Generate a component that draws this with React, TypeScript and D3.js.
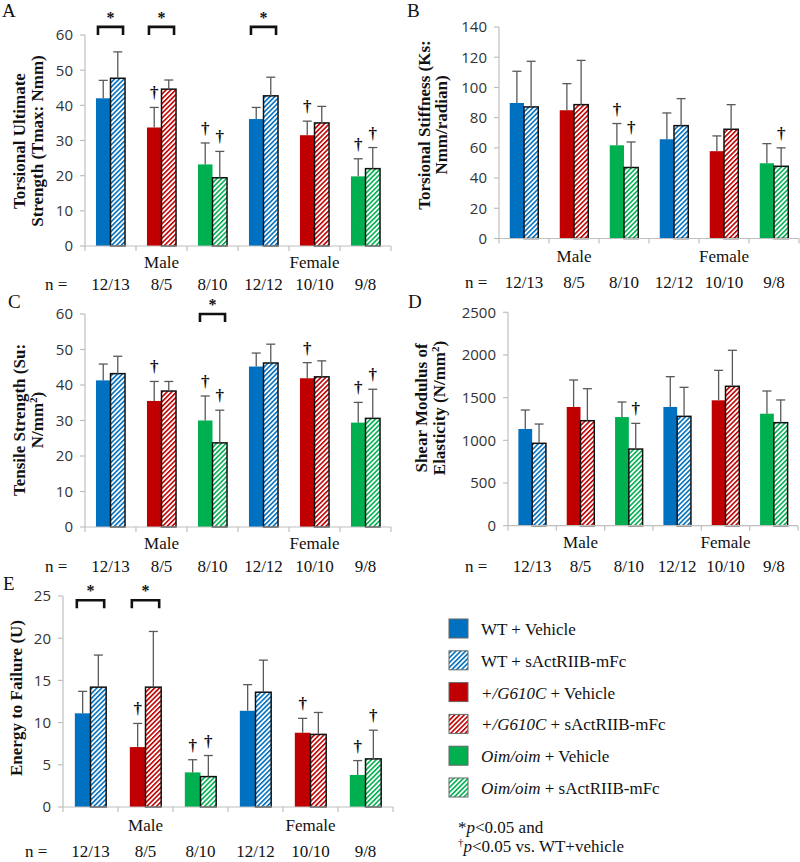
import React from 'react';
import * as d3 from 'd3';

const W = 800;
const H = 862;

// ---------- shared categories ----------
const categories = ['M-WT', 'M-G610C', 'M-oim', 'F-WT', 'F-G610C', 'F-oim'];
const genotypeOfCategory = [0, 1, 2, 0, 1, 2];
const treatments = ['Vehicle', 'sActRIIB-mFc'];
const sexLabels = ['Male', 'Female'];
const nLabels = ['12/13', '8/5', '8/10', '12/12', '10/10', '9/8'];
const genotypeColors = ['#0070C0', '#C00000', '#00B050'];

// ---------- Panel A: Torsional ultimate strength ----------
const aVehicle = [42.0, 33.7, 23.2, 36.1, 31.5, 19.8];
const aVehicleSD = [5.1, 5.7, 6.1, 3.3, 4.0, 5.0];
const aTreated = [47.7, 44.6, 19.4, 42.7, 35.0, 22.0];
const aTreatedSD = [7.5, 2.6, 7.5, 5.3, 4.7, 6.0];
const aDaggerVehicle = [1, 2, 4, 5];
const aDaggerTreated = [2, 5];
const aStars = [0, 1, 3];

// ---------- Panel B: Torsional stiffness ----------
const bVehicle = [89.7, 84.9, 61.7, 65.7, 57.8, 49.8];
const bVehicleSD = [21.0, 17.6, 14.4, 17.4, 10.1, 13.0];
const bTreated = [87.1, 88.6, 47.0, 74.7, 72.3, 47.8];
const bTreatedSD = [30.2, 29.3, 16.9, 17.9, 16.3, 12.2];
const bDaggerVehicle = [2];
const bDaggerTreated = [2, 5];
const bStars: number[] = [];

// ---------- Panel C: Tensile strength ----------
const cVehicle = [41.3, 35.5, 30.0, 45.2, 41.9, 29.4];
const cVehicleSD = [4.6, 5.5, 6.9, 3.8, 4.4, 5.7];
const cTreated = [43.2, 38.3, 23.7, 46.2, 42.3, 30.6];
const cTreatedSD = [4.9, 2.7, 9.2, 5.3, 4.5, 8.2];
const cDaggerVehicle = [1, 2, 4, 5];
const cDaggerTreated = [2, 5];
const cStars = [2];

// ---------- Panel D: Shear modulus ----------
const dVehicle = [1133, 1391, 1273, 1391, 1469, 1312];
const dVehicleSD = [222, 316, 176, 355, 351, 266];
const dTreated = [965, 1230, 898, 1281, 1633, 1207];
const dTreatedSD = [226, 375, 301, 340, 422, 266];
const dDaggerVehicle: number[] = [];
const dDaggerTreated = [2];
const dStars: number[] = [];

// ---------- Panel E: Energy to failure ----------
const eVehicle = [11.1, 7.1, 4.1, 11.4, 8.8, 3.8];
const eVehicleSD = [2.6, 2.8, 1.5, 3.1, 1.7, 1.7];
const eTreated = [14.2, 14.2, 3.6, 13.6, 8.6, 5.7];
const eTreatedSD = [3.8, 6.6, 2.5, 3.8, 2.6, 3.4];
const eDaggerVehicle = [1, 2, 4, 5];
const eDaggerTreated = [2, 5];
const eStars = [0, 1];

// ---------- Legend ----------
const legendGenotypes = [
  { italic: '', plain: 'WT + ' },
  { italic: '+/G610C', plain: ' + ' },
  { italic: 'Oim/oim', plain: ' + ' },
];

const SERIF = '"Liberation Serif", "Times New Roman", serif';
const SANS = '"Open Sans", "Noto Sans", sans-serif';

type Spec = {
  letter: string;
  lx: number;
  ly: number;
  x0: number;
  x1: number;
  yTop: number;
  yBot: number;
  max: number;
  tickCount: number;
  title: React.ReactNode[];
  titleX: number[];
  titleY: number;
  sexY: number;
  nY: number;
  nX: number;
  starLevel?: number;
  vehicle: number[];
  vehicleSD: number[];
  treated: number[];
  treatedSD: number[];
  daggerV: number[];
  daggerT: number[];
  stars: number[];
};

function Panel({ s }: { s: Spec }) {
  const x = d3.scaleBand<string>().domain(categories).range([s.x0, s.x1]);
  const pairFrac = 0.57;
  const pairW = x.bandwidth() * pairFrac;
  const inner = d3.scaleBand<string>().domain(treatments).range([0, pairW]);
  const off = (x.bandwidth() - pairW) / 2;
  const y = d3.scaleLinear().domain([0, s.max]).range([s.yBot, s.yTop]);
  const ticks = y.ticks(s.tickCount);
  const bw = inner.bandwidth();
  const capW = 9;
  const axisColor = '#bfbfbf';

  const bars: React.ReactNode[] = [];
  const errs: React.ReactNode[] = [];
  const daggers: React.ReactNode[] = [];
  categories.forEach((c, i) => {
    const g = genotypeOfCategory[i];
    treatments.forEach((t, j) => {
      const mean = j === 0 ? s.vehicle[i] : s.treated[i];
      const sd = j === 0 ? s.vehicleSD[i] : s.treatedSD[i];
      const bx = (x(c) as number) + off + (inner(t) as number);
      const yt = y(mean);
      const cx = bx + bw / 2;
      if (j === 0) {
        bars.push(
          <rect key={`b${i}${j}`} x={bx} y={yt} width={bw} height={s.yBot - yt} fill={genotypeColors[g]} />
        );
      } else {
        bars.push(
          <rect
            key={`b${i}${j}`}
            x={bx}
            y={yt}
            width={bw}
            height={s.yBot - yt}
            fill={`url(#hatch${g})`}
            stroke="#111"
            strokeWidth={1.5}
          />
        );
      }
      const ye = y(mean + sd);
      errs.push(
        <g key={`e${i}${j}`} stroke="#595959" strokeWidth={1.3}>
          <line x1={cx} x2={cx} y1={yt} y2={ye} />
          <line x1={cx - capW / 2} x2={cx + capW / 2} y1={ye} y2={ye} />
        </g>
      );
      const dl = j === 0 ? s.daggerV : s.daggerT;
      if (dl.includes(i)) {
        daggers.push(
          <text
            key={`d${i}${j}`}
            x={cx}
            y={ye - 9}
            textAnchor="middle"
            fontFamily={SERIF}
            fontWeight="bold"
            fontSize={17}
            fill="#111"
          >
            †
          </text>
        );
      }
    });
  });

  const stars = s.stars.map((i) => {
    const c = categories[i];
    const xl = (x(c) as number) + off + 2;
    const xr = (x(c) as number) + off + pairW - 2;
    const yb = y(s.starLevel ?? s.max);
    return (
      <g key={`s${i}`}>
        <path d={`M${xl},${yb + 8}V${yb}H${xr}V${yb + 8}`} fill="none" stroke="#111" strokeWidth={2.6} />
        <text x={(xl + xr) / 2} y={yb - 4} textAnchor="middle" fontFamily={SERIF} fontWeight="bold" fontSize={16} fill="#111">
          *
        </text>
      </g>
    );
  });

  const sepTicks = d3.range(0, categories.length + 1).map((k) => s.x0 + k * x.step());

  return (
    <g>
      <text x={s.lx} y={s.ly} fontFamily={SERIF} fontSize={19} fill="#111">
        {s.letter}
      </text>
      {s.title.map((t, k) => (
        <text
          key={`t${k}`}
          transform={`translate(${s.titleX[k]},${s.titleY}) rotate(-90)`}
          textAnchor="middle"
          fontFamily={SERIF}
          fontWeight="bold"
          fontSize={17}
          fill="#111"
        >
          {t}
        </text>
      ))}
      {/* y axis */}
      <line x1={s.x0} x2={s.x0} y1={s.yTop} y2={s.yBot} stroke={axisColor} strokeWidth={1.2} />
      {ticks.map((t) => (
        <g key={`yt${t}`}>
          <line x1={s.x0 - 5} x2={s.x0} y1={y(t)} y2={y(t)} stroke={axisColor} strokeWidth={1.2} />
          <text x={s.x0 - 12} y={y(t)} dy="0.36em" textAnchor="end" fontFamily={SANS} fontSize={15} fill="#333">
            {t}
          </text>
        </g>
      ))}
      {bars}
      {errs}
      {/* x axis */}
      <line x1={s.x0} x2={s.x1} y1={s.yBot} y2={s.yBot} stroke={axisColor} strokeWidth={1.2} />
      {sepTicks.map((tx, k) => (
        <line key={`xt${k}`} x1={tx} x2={tx} y1={s.yBot} y2={s.yBot + 5} stroke={axisColor} strokeWidth={1.2} />
      ))}
      {sexLabels.map((lab, k) => (
        <text
          key={lab}
          x={s.x0 + (s.x1 - s.x0) * (0.25 + 0.5 * k)}
          y={s.sexY}
          textAnchor="middle"
          fontFamily={SERIF}
          fontSize={17}
          fill="#111"
        >
          {lab}
        </text>
      ))}
      <text x={s.nX} y={s.nY} fontFamily={SERIF} fontSize={17} fill="#111">
        n =
      </text>
      {nLabels.map((lab, i) => (
        <text
          key={`n${i}`}
          x={(x(categories[i]) as number) + x.bandwidth() / 2}
          y={s.nY}
          textAnchor="middle"
          fontFamily={SERIF}
          fontSize={17}
          fill="#111"
        >
          {lab}
        </text>
      ))}
      {daggers}
      {stars}
    </g>
  );
}

const sup = (base: string, tail: string) => [
  base,
  <tspan key="s" dy={-6} fontSize={11}>
    2
  </tspan>,
  <tspan key="t" dy={6}>
    {tail}
  </tspan>,
];

const specs: Spec[] = [
  {
    letter: 'A', lx: 2, ly: 17, x0: 85, x1: 391, yTop: 35, yBot: 246, max: 60, tickCount: 6,
    title: ['Torsional Ultimate', 'Strength (Tmax: Nmm)'], titleX: [25, 43], titleY: 141,
    sexY: 268, nY: 290, nX: 45, starLevel: 62.3,
    vehicle: aVehicle, vehicleSD: aVehicleSD, treated: aTreated, treatedSD: aTreatedSD,
    daggerV: aDaggerVehicle, daggerT: aDaggerTreated, stars: aStars,
  },
  {
    letter: 'B', lx: 407, ly: 17, x0: 499, x1: 799, yTop: 27, yBot: 238.5, max: 140, tickCount: 7,
    title: ['Torsional Stiffness (Ks:', 'Nmm/radian)'], titleX: [430, 447], titleY: 125,
    sexY: 262, nY: 288, nX: 465,
    vehicle: bVehicle, vehicleSD: bVehicleSD, treated: bTreated, treatedSD: bTreatedSD,
    daggerV: bDaggerVehicle, daggerT: bDaggerTreated, stars: bStars,
  },
  {
    letter: 'C', lx: 8, ly: 308, x0: 85, x1: 391, yTop: 314, yBot: 527, max: 60, tickCount: 6,
    title: ['Tensile Strength (Su:', <>{sup('N/mm', ')')}</>], titleX: [25, 43], titleY: 420,
    sexY: 549, nY: 572, nX: 45, starLevel: 60,
    vehicle: cVehicle, vehicleSD: cVehicleSD, treated: cTreated, treatedSD: cTreatedSD,
    daggerV: cDaggerVehicle, daggerT: cDaggerTreated, stars: cStars,
  },
  {
    letter: 'D', lx: 408, ly: 308, x0: 508, x1: 798, yTop: 312.3, yBot: 525.7, max: 2500, tickCount: 5,
    title: ['Shear Modulus of', <>{sup('Elasticity (N/mm', ')')}</>], titleX: [427, 445], titleY: 408,
    sexY: 548, nY: 572, nX: 465,
    vehicle: dVehicle, vehicleSD: dVehicleSD, treated: dTreated, treatedSD: dTreatedSD,
    daggerV: dDaggerVehicle, daggerT: dDaggerTreated, stars: dStars,
  },
  {
    letter: 'E', lx: 3, ly: 590, x0: 63, x1: 393, yTop: 596, yBot: 807, max: 25, tickCount: 5,
    title: ['Energy to Failure (U)'], titleX: [22], titleY: 698,
    sexY: 831, nY: 857, nX: 25, starLevel: 24.5,
    vehicle: eVehicle, vehicleSD: eVehicleSD, treated: eTreated, treatedSD: eTreatedSD,
    daggerV: eDaggerVehicle, daggerT: eDaggerTreated, stars: eStars,
  },
];

function Legend() {
  const items: { g: number; t: number }[] = [];
  legendGenotypes.forEach((_, g) => treatments.forEach((__, t) => items.push({ g, t })));
  const y0 = 619;
  const step = 31.8;
  return (
    <g>
      {items.map((it, k) => {
        const yy = y0 + k * step;
        const lg = legendGenotypes[it.g];
        return (
          <g key={k}>
            <rect
              x={449}
              y={yy}
              width={19}
              height={19}
              fill={it.t === 0 ? genotypeColors[it.g] : `url(#hatch${it.g})`}
              stroke="#666"
              strokeWidth={1}
            />
            <text x={481} y={yy + 16} fontFamily={SERIF} fontSize={17} fill="#111">
              {lg.italic ? <tspan fontStyle="italic">{lg.italic}</tspan> : null}
              <tspan>{lg.plain + treatments[it.t]}</tspan>
            </text>
          </g>
        );
      })}
      <text x={458} y={833} fontFamily={SERIF} fontSize={17} fill="#111">
        *<tspan fontStyle="italic">p</tspan>&lt;0.05 and
      </text>
      <text x={458} y={852} fontFamily={SERIF} fontSize={17} fill="#111">
        <tspan fontSize={11} dy={-6}>†</tspan>
        <tspan fontStyle="italic" dy={6}>p</tspan>&lt;0.05 vs. WT+vehicle
      </text>
    </g>
  );
}

export default function App() {
  return (
    <svg
      width={W}
      height={H}
      viewBox={`0 0 ${W} ${H}`}
      style={{ position: 'absolute', left: 0, top: 0, background: '#fff' }}
    >
      <defs>
        {genotypeColors.map((c, g) => (
          <pattern
            key={g}
            id={`hatch${g}`}
            patternUnits="userSpaceOnUse"
            width={3.4}
            height={3.4}
            patternTransform="rotate(45)"
          >
            <rect x={0} y={0} width={3.4} height={3.4} fill="#fff" />
            <rect x={0} y={0} width={1.6} height={3.4} fill={c} />
          </pattern>
        ))}
      </defs>
      <rect x={0} y={0} width={W} height={H} fill="#fff" />
      {specs.map((s) => (
        <Panel key={s.letter} s={s} />
      ))}
      <Legend />
    </svg>
  );
}
